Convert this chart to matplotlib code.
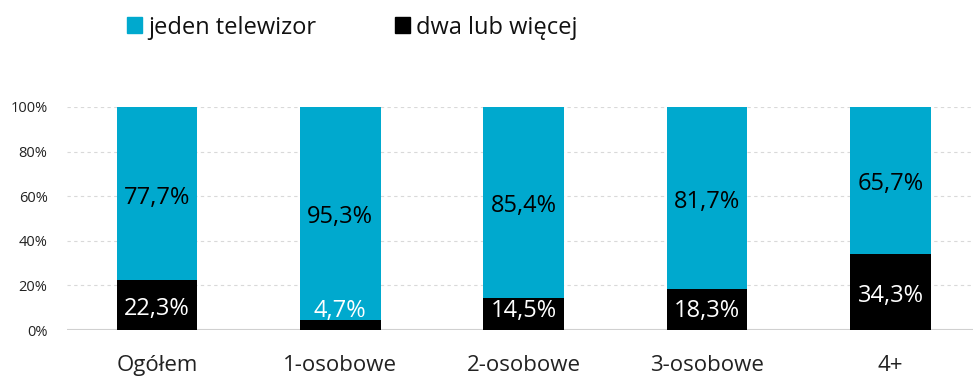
import numpy as np
import matplotlib.pyplot as plt
from matplotlib.patches import Rectangle

# Gospodarstwa domowe wg liczby telewizorów
kategorie = ['Ogółem', '1-osobowe', '2-osobowe', '3-osobowe', '4+']
dwa_lub_wiecej = [22.3, 4.7, 14.5, 18.3, 34.3]
jeden = [77.7, 95.3, 85.4, 81.7, 65.7]

cyan = '#00A9CE'
plt.rcParams['font.family'] = ['Open Sans', 'DejaVu Sans']

W, H = 973, 376
fig = plt.figure(figsize=(W / 100, H / 100), dpi=100)
ax = fig.add_axes([67 / W, 46 / H, 906 / W, 223 / H])

x = np.arange(len(kategorie))
w = 0.44
ax.bar(x, dwa_lub_wiecej, w, color='black', zorder=3)
ax.bar(x, jeden, w, bottom=dwa_lub_wiecej, color=cyan, zorder=3)

def fmt(v):
    return f'{v:.1f}%'.replace('.', ',')

for xi, d, j in zip(x, dwa_lub_wiecej, jeden):
    # małe wartości - etykieta tuż nad czarnym segmentem
    yd = max(d / 2 - 4.5, 5.8)
    ax.text(xi, yd, fmt(d), ha='center', va='baseline', color='white',
            fontsize=17, zorder=4)
    ax.text(xi, d + j / 2 - 4.5, fmt(j), ha='center', va='baseline',
            color='black', fontsize=17, zorder=4)

ax.set_xlim(-0.49, 4.45)
ax.set_ylim(0, 100)
ax.set_yticks([0, 20, 40, 60, 80, 100])
ax.set_yticklabels([f'{t}%' for t in range(0, 101, 20)], fontsize=10.5)
ax.set_xticks(x)
ax.set_xticklabels(kategorie, fontsize=16)
ax.tick_params(axis='both', length=0, colors='#222222')
ax.tick_params(axis='y', pad=14)
ax.tick_params(axis='x', pad=18)

for v in [20, 40, 60, 80, 100]:
    ax.axhline(v, color='#d9d9d9', linestyle=(0, (3, 3)), linewidth=0.8, zorder=1)
ax.axhline(0, color='#d0d0d0', linewidth=1.5, zorder=2)

for s in ax.spines.values():
    s.set_visible(False)

# legenda nad wykresem
legenda = [(cyan, 'jeden telewizor', 127), ('black', 'dwa lub więcej', 395)]
for kolor, opis, px in legenda:
    fig.patches.append(Rectangle((px / W, 1 - 33 / H), 15 / W, 16 / H,
                                 transform=fig.transFigure, color=kolor))
    fig.text((px + 21) / W, 1 - 34 / H, opis, fontsize=17, color='#111111',
             va='baseline', ha='left')

fig.savefig('out.png', dpi=100)
